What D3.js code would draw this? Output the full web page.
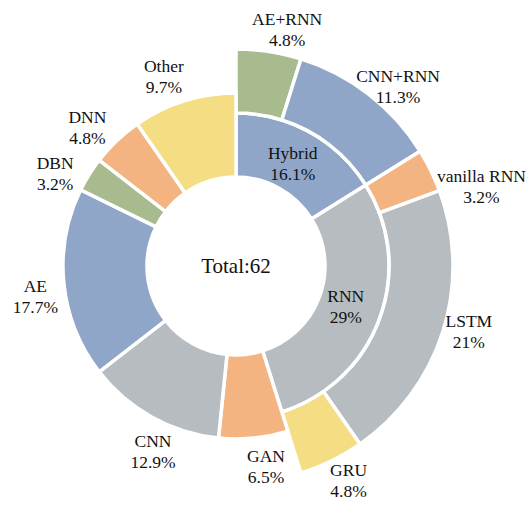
<!DOCTYPE html>
<html>
<head>
<meta charset="utf-8">
<script src="https://cdn.jsdelivr.net/npm/d3@7"></script>
<style>
  html, body { margin: 0; padding: 0; background: #fff; }
</style>
</head>
<body>
<svg id="chart"></svg>
<script>
// data
const outerLabels = ["AE+RNN", "CNN+RNN", "vanilla RNN", "LSTM", "GRU", "GAN", "CNN", "AE", "DBN", "DNN", "Other"];
const outerCounts = [3, 7, 2, 13, 3, 4, 8, 11, 2, 3, 6];
const outerParent = ["Hybrid", "Hybrid", "RNN", "RNN", "RNN", null, null, null, null, null, null];
const innerLabels = ["Hybrid", "RNN"];
const innerCounts = [10, 18];
const total = 62;

const colors = {
  blue: "#8fa6c8", gray: "#b7bcc0", orange: "#f3b482", yellow: "#f5dd84", green: "#a8bb8e"
};
const outerColors = ["green", "blue", "orange", "gray", "yellow", "orange", "gray", "blue", "green", "orange", "yellow"];
const innerColors = ["blue", "gray"];

const width = 529;
const height = 506;
const cx = 236, cy = 266;
const rHole = 89, rSplit = 153, rOuter = 217, rSingle = 173;
const FONT = "Liberation Serif";

const svg = d3.select("#chart").attr("width", width).attr("height", height);
const g = svg.append("g").attr("transform", `translate(${cx},${cy})`);

// angle scale: count -> radians clockwise from top
const angle = d3.scaleLinear().domain([0, total]).range([0, 2 * Math.PI]);
const fmt = (v) => {
  const s = d3.format(".1f")(v * 100 / total);
  return (s.endsWith(".0") ? s.slice(0, -2) : s) + "%";
};

const arc = d3.arc();

// build outer slices (children sit on the outer band, others span the full width)
let acc = 0;
const outer = outerCounts.map((c, i) => {
  const d = {
    label: outerLabels[i], count: c, parent: outerParent[i],
    startAngle: angle(acc), endAngle: angle(acc + c), color: colors[outerColors[i]]
  };
  d.innerRadius = d.parent ? rSplit : rHole;
  d.outerRadius = d.parent ? rOuter : rSingle;
  acc += c;
  return d;
});

acc = 0;
const inner = innerCounts.map((c, i) => {
  const d = {
    label: innerLabels[i], count: c,
    startAngle: angle(acc), endAngle: angle(acc + c), color: colors[innerColors[i]],
    innerRadius: rHole, outerRadius: rSplit
  };
  acc += c;
  return d;
});

const all = inner.concat(outer);

g.selectAll("path.slice")
  .data(all)
  .enter()
  .append("path")
  .attr("class", "slice")
  .attr("d", (d) => arc(d))
  .attr("fill", (d) => d.color)
  .attr("stroke", "#fff")
  .attr("stroke-width", 3.5)
  .attr("stroke-linejoin", "miter");

// label placement tweaks (degrees / radius)
const labelShift = { "AE+RNN": 3.5, "CNN+RNN": 4.3, "vanilla RNN": 8.2, "LSTM": -1.6, "GRU": -1.6,
  "GAN": -2.7, "CNN": -4.9, "AE": -2.9, "DBN": -4.9, "DNN": -3.5, "Other": -3.4 };
const labelRadius = { "vanilla RNN": 258 };

function labelPos(d, r, shiftDeg) {
  const a = (d.startAngle + d.endAngle) / 2 + (shiftDeg || 0) * Math.PI / 180;
  return [r * Math.sin(a), -r * Math.cos(a)];
}

function addLabel(d, p) {
  const t = g.append("text")
    .attr("text-anchor", "middle")
    .style("font-family", FONT)
    .style("font-size", "17.5px")
    .attr("fill", "#111");
  t.append("tspan").attr("x", p[0]).attr("y", p[1] - 4.5).text(d.label);
  t.append("tspan").attr("x", p[0]).attr("y", p[1] + 16.5).text(fmt(d.count));
}

outer.forEach((d) => {
  const r = labelRadius[d.label] || (d.parent ? 242 : 203);
  addLabel(d, labelPos(d, r, labelShift[d.label]));
});
inner.forEach((d) => addLabel(d, labelPos(d, 117, 0)));

g.append("text")
  .attr("text-anchor", "middle")
  .attr("y", 7)
  .style("font-family", FONT)
  .style("font-size", "21px")
  .attr("fill", "#111")
  .text("Total:" + total);
</script>
</body>
</html>
